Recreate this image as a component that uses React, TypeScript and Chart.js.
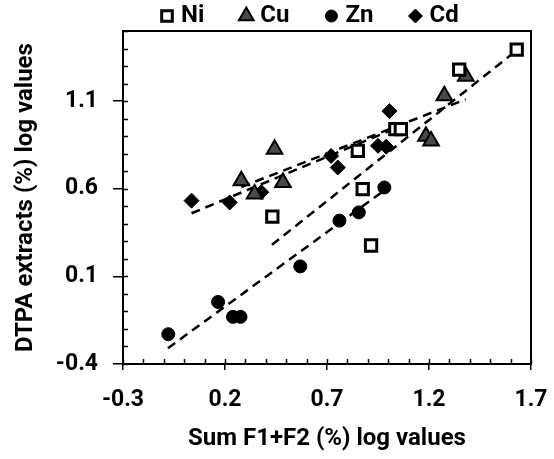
import React, { useEffect, useRef } from 'react';
import { Chart, registerables } from 'chart.js';
import { drawPoint } from 'chart.js/helpers';

Chart.register(...registerables);

// ---------- data ----------
const seriesNames = ['Ni', 'Cu', 'Zn', 'Cd'];

const niX = [1.63, 1.348, 1.035, 1.062, 0.851, 0.875, 0.432, 0.916];
const niY = [1.394, 1.28, 0.94, 0.94, 0.816, 0.598, 0.441, 0.276];

const cuX = [1.38, 1.275, 1.185, 1.21, 0.443, 0.28, 0.484, 0.345];
const cuY = [1.242, 1.13, 0.9, 0.873, 0.826, 0.645, 0.636, 0.57];

const znX = [0.981, 0.856, 0.761, 0.569, 0.166, 0.239, 0.276, -0.078];
const znY = [0.607, 0.465, 0.418, 0.157, -0.046, -0.131, -0.131, -0.23];

const cdX = [1.006, 0.95, 0.99, 0.72, 0.753, 0.378, 0.223, 0.036];
const cdY = [1.043, 0.845, 0.84, 0.787, 0.721, 0.58, 0.522, 0.532];

// dashed trend lines (start, end)
const trendNiX = [0.43, 1.63];
const trendNiY = [0.28, 1.39];
const trendCuX = [0.28, 1.38];
const trendCuY = [0.61, 1.11];
const trendZnX = [-0.08, 0.98];
const trendZnY = [-0.31, 0.59];
const trendCdX = [0.036, 1.006];
const trendCdY = [0.46, 0.93];

const xTicks = [-0.3, 0.2, 0.7, 1.2, 1.7];
const yTicks = [-0.4, 0.1, 0.6, 1.1];
const X_MIN = -0.3;
const X_MAX = 1.7;
const Y_MIN = -0.4;
const Y_MAX = 1.5;

const xTitle = 'Sum F1+F2 (%) log values';
const yTitle = 'DTPA extracts (%) log values';

// ---------- styles ----------
const FONT = 'Roboto';
const pts = (xs: number[], ys: number[]) => xs.map((x, i) => ({ x, y: ys[i] }));

const markerStyles = [
  { pointStyle: 'rect', radius: 8, bg: '#ffffff', border: '#000000', bw: 3 },
  { pointStyle: 'triangle', radius: 9, bg: '#4a4a4a', border: '#000000', bw: 2 },
  { pointStyle: 'circle', radius: 6.5, bg: '#000000', border: '#000000', bw: 1 },
  { pointStyle: 'rectRot', radius: 7.5, bg: '#000000', border: '#000000', bw: 1 },
];

const frameTicksPlugin = {
  id: 'frameTicks',
  afterDraw(chart: any) {
    const { ctx, chartArea: a, scales } = chart;
    const xs = scales.x;
    const ys = scales.y;
    ctx.save();
    ctx.strokeStyle = '#000';
    ctx.lineWidth = 2;
    ctx.strokeRect(a.left, a.top, a.right - a.left, a.bottom - a.top);
    ctx.lineWidth = 1.5;
    ctx.beginPath();
    const nx = Math.round((X_MAX - X_MIN) / 0.1);
    for (let i = 0; i <= nx; i++) {
      const px = Math.round(xs.getPixelForValue(X_MIN + i * 0.1)) + 0.5;
      ctx.moveTo(px, a.bottom);
      ctx.lineTo(px, a.bottom - 5);
    }
    const ny = Math.round((Y_MAX - Y_MIN) / 0.1);
    for (let i = 0; i <= ny; i++) {
      const py = Math.round(ys.getPixelForValue(Y_MIN + i * 0.1)) + 0.5;
      ctx.moveTo(a.left, py);
      ctx.lineTo(a.left + 5, py);
    }
    ctx.stroke();
    ctx.restore();
  },
};

const legendPlugin = {
  id: 'topLegend',
  afterDraw(chart: any) {
    const { ctx } = chart;
    ctx.save();
    ctx.font = `bold 24px ${FONT}`;
    ctx.textBaseline = 'middle';
    ctx.textAlign = 'left';
    const y = 15;
    let x = 160;
    seriesNames.forEach((name, i) => {
      const m = markerStyles[i];
      ctx.fillStyle = m.bg;
      ctx.strokeStyle = m.border;
      ctx.lineWidth = m.bw;
      drawPoint(ctx, { pointStyle: m.pointStyle as any, rotation: 0, borderWidth: m.bw, radius: m.radius - 0.5 }, x + 7, y + 1);
      ctx.fillStyle = '#000';
      ctx.fillText(name, x + 21, y + 1);
      x += 21 + ctx.measureText(name).width + 35;
    });
    ctx.restore();
  },
};

export default function App() {
  const ref = useRef<HTMLCanvasElement>(null);

  useEffect(() => {
    document.body.style.margin = '0';
    const canvas = ref.current;
    if (!canvas) return;

    const scatterSets = [pts(niX, niY), pts(cuX, cuY), pts(znX, znY), pts(cdX, cdY)].map((data, i) => {
      const m = markerStyles[i];
      return {
        type: 'scatter' as const,
        label: seriesNames[i],
        data,
        pointStyle: m.pointStyle,
        pointRadius: m.radius,
        pointHoverRadius: m.radius,
        backgroundColor: m.bg,
        borderColor: m.border,
        pointBorderWidth: m.bw,
        order: 1,
      };
    });

    const trendSets = [
      pts(trendNiX, trendNiY),
      pts(trendCuX, trendCuY),
      pts(trendZnX, trendZnY),
      pts(trendCdX, trendCdY),
    ].map((data, i) => ({
      type: 'line' as const,
      label: seriesNames[i] + ' trend',
      data,
      borderColor: '#000',
      borderWidth: 2.5,
      borderDash: [9, 6],
      pointRadius: 0,
      fill: false,
      order: 2,
    }));

    const chart = new Chart(canvas, {
      type: 'scatter',
      data: { datasets: [...scatterSets, ...trendSets] as any },
      options: {
        animation: false,
        responsive: false,
        maintainAspectRatio: false,
        layout: { padding: { top: 31, right: 23, left: 0, bottom: 0 } },
        plugins: {
          legend: { display: false },
          tooltip: { enabled: false },
        },
        scales: {
          x: {
            type: 'linear',
            min: X_MIN,
            max: X_MAX,
            afterBuildTicks: (s: any) => {
              s.ticks = xTicks.map((v) => ({ value: v }));
            },
            afterFit: (s: any) => {
              s.height = 95;
              s.paddingLeft = 0;
              s.paddingRight = 0;
            },
            grid: { drawOnChartArea: false, drawTicks: true, tickLength: 6, color: '#000', lineWidth: 1.5 },
            border: { display: true, color: '#000', width: 2 },
            ticks: {
              color: '#000',
              padding: 16,
              maxRotation: 0,
              autoSkip: false,
              font: { family: FONT, size: 23, weight: 'bold' },
              callback: (v: any) => Number(v).toFixed(1),
            },
            title: {
              display: true,
              text: xTitle,
              color: '#000',
              font: { family: FONT, size: 24, weight: 'bold' },
              padding: { top: 0, bottom: 6 },
            },
          },
          y: {
            type: 'linear',
            min: Y_MIN,
            max: Y_MAX,
            afterBuildTicks: (s: any) => {
              s.ticks = yTicks.map((v) => ({ value: v }));
            },
            afterFit: (s: any) => {
              s.width = 123;
              s.paddingTop = 0;
              s.paddingBottom = 0;
            },
            grid: { drawOnChartArea: false, drawTicks: true, tickLength: 10, color: '#000', lineWidth: 1.5 },
            border: { display: true, color: '#000', width: 2 },
            ticks: {
              color: '#000',
              padding: 15,
              autoSkip: false,
              font: { family: FONT, size: 23, weight: 'bold' },
              callback: (v: any) => Number(v).toFixed(1),
            },
            title: {
              display: true,
              text: yTitle,
              color: '#000',
              font: { family: FONT, size: 24, weight: 'bold' },
              padding: { top: 12, bottom: 0 },
            },
          },
        },
      },
      plugins: [frameTicksPlugin, legendPlugin],
    });

    return () => chart.destroy();
  }, []);

  return (
    <div style={{ width: 554, height: 459, overflow: 'hidden' }}>
      <canvas ref={ref} width={554} height={459} style={{ display: 'block', width: 554, height: 459 }} />
    </div>
  );
}
